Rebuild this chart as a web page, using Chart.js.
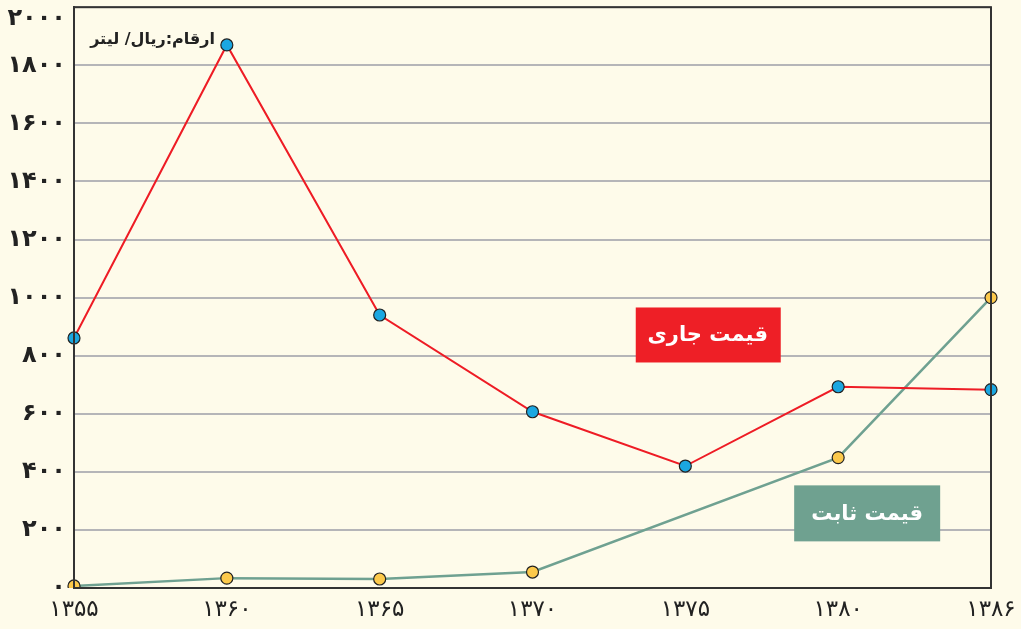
<!DOCTYPE html>
<html>
<head>
<meta charset="utf-8">
<script src="https://cdn.jsdelivr.net/npm/chart.js@4/dist/chart.umd.min.js"></script>
<style>
  body { margin: 0; background: #fefbea; }
  #wrap { width: 1021px; height: 629px; }
</style>
</head>
<body>
<div id="wrap"><canvas id="chart"></canvas></div>
<script>
// years on the x axis
let years = ['1355', '1360', '1365', '1370', '1375', '1380', '1386'];
// current price (red) and constant price (teal), rial per litre
let currentPrice = [861, 1870, 940, 607, 420, 693, 683];
let constantPrice = [7, 34, 31, 55, null, 449, 1000];
let yMax = 2000;

let unitLabel = 'ارقام:ریال/ لیتر';
let currentLabel = 'قیمت جاری';
let constantLabel = 'قیمت ثابت';

function toPersian(s) {
    let digits = ['۰', '۱', '۲', '۳', '۴', '۵', '۶', '۷', '۸', '۹'];
    return String(s).replace(/[0-9]/g, d => digits[+d]);
}

const boxLabels = {
    id: 'boxLabels',
    afterDatasetsDraw(chart) {
        let ctx = chart.ctx;
        let x = chart.scales.x;
        let y = chart.scales.y;
        let a = chart.chartArea;
        ctx.save();
        ctx.textAlign = 'center';
        ctx.textBaseline = 'middle';
        ctx.font = 'bold 21px "DejaVu Sans"';

        // red box, between 1375 and 1380
        let cx = (x.getPixelForValue(4) + x.getPixelForValue(5)) / 2 - 54;
        let cy = y.getPixelForValue(873);
        ctx.fillStyle = '#ee1f26';
        ctx.fillRect(cx - 72, cy - 27, 145, 55);
        ctx.fillStyle = '#ffffff';
        ctx.fillText(currentLabel, cx, cy + 1);

        // teal box, right of 1380
        cx = x.getPixelForValue(5) + 29;
        cy = y.getPixelForValue(257);
        ctx.fillStyle = '#6fa190';
        ctx.fillRect(cx - 73, cy - 28, 146, 56);
        ctx.fillStyle = '#ffffff';
        ctx.fillText(constantLabel, cx, cy + 1);

        // unit label
        ctx.fillStyle = '#222';
        ctx.font = 'bold 16px "DejaVu Sans"';
        ctx.textAlign = 'right';
        ctx.fillText(unitLabel, a.left + 141, y.getPixelForValue(1887));

        // top tick label, pushed down so it is not cut off
        ctx.font = 'bold 24px "DejaVu Sans"';
        ctx.fillText(toPersian(yMax), a.left - 8, y.getPixelForValue(yMax) + 12);

        // frame
        ctx.strokeStyle = '#333';
        ctx.lineWidth = 2;
        ctx.strokeRect(a.left, a.top, a.right - a.left, a.bottom - a.top);
        ctx.restore();
    }
};

new Chart(document.getElementById('chart'), {
    type: 'line',
    data: {
        labels: years,
        datasets: [{
            label: currentLabel,
            data: currentPrice,
            borderColor: '#ee1c25',
            borderWidth: 2,
            pointBackgroundColor: '#1ba7e1',
            pointBorderColor: '#222',
            pointBorderWidth: 1.2,
            pointRadius: 6,
            tension: 0
        }, {
            label: constantLabel,
            data: constantPrice,
            borderColor: '#6fa191',
            borderWidth: 2.5,
            pointBackgroundColor: '#fcc94b',
            pointBorderColor: '#222',
            pointBorderWidth: 1.2,
            pointRadius: 6,
            spanGaps: true,
            tension: 0
        }]
    },
    options: {
        responsive: true,
        maintainAspectRatio: false,
        animation: false,
        layout: { padding: { top: 5, right: 30, left: 0, bottom: 0 } },
        plugins: {
            legend: { display: false },
            tooltip: { enabled: false }
        },
        scales: {
            x: {
                offset: false,
                grid: { display: false, drawTicks: true, tickLength: 8, tickColor: '#333' },
                border: { color: '#333', width: 2 },
                ticks: {
                    color: '#222',
                    font: { family: 'DejaVu Sans', size: 23 },
                    maxRotation: 0,
                    padding: 0,
                    callback: function(v) { return toPersian(this.getLabelForValue(v)); }
                },
                afterFit: s => { s.height = 41; }
            },
            y: {
                min: 0,
                max: yMax,
                grid: { color: '#b5b5b8', lineWidth: 2, drawTicks: false },
                border: { color: '#333', width: 2 },
                ticks: {
                    stepSize: 200,
                    color: '#222',
                    padding: 8,
                    font: { family: 'DejaVu Sans', size: 24, weight: 'bold' },
                    callback: v => v === yMax ? '' : toPersian(v)
                },
                afterFit: s => { s.width = 74; s.paddingTop = 0; }
            }
        }
    },
    plugins: [boxLabels]
});
</script>
</body>
</html>
